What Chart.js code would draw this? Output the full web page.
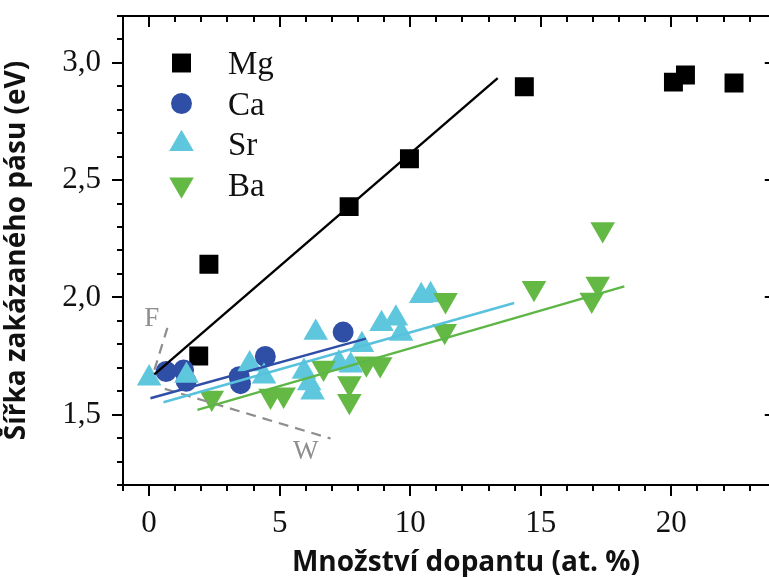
<!DOCTYPE html>
<html>
<head>
<meta charset="utf-8">
<title>Šířka zakázaného pásu</title>
<script src="https://cdn.jsdelivr.net/npm/chart.js@4.4.1/dist/chart.umd.min.js"></script>
<style>
  html, body { margin: 0; padding: 0; background: #fff; overflow: hidden; }
  #wrap { width: 790px; height: 577px; }
</style>
</head>
<body>
<div id="wrap"><canvas id="gap" width="790" height="577"></canvas></div>
<script>
// band gap vs. dopant content, one series per dopant
const seriesNames = ['Mg', 'Ca', 'Sr', 'Ba'];

const mgX = [1.9, 2.29, 7.66, 9.97, 14.37, 20.08, 20.54, 22.4];
const mgY = [1.75, 2.141, 2.387, 2.591, 2.898, 2.918, 2.948, 2.914];

const caX = [0.65, 1.32, 1.42, 3.45, 3.5, 4.45, 7.43];
const caY = [1.684, 1.69, 1.642, 1.662, 1.632, 1.748, 1.852];

const srX = [0, 1.43, 3.85, 4.4, 5.93, 6.13, 6.26, 6.38, 7.27, 7.72, 8.15, 8.9, 9.45, 9.65, 10.42, 10.78];
const srY = [1.655, 1.666, 1.715, 1.663, 1.683, 1.634, 1.595, 1.85, 1.719, 1.71, 1.797, 1.887, 1.91, 1.845, 2.006, 2.01];

const baX = [2.4, 4.65, 5.15, 6.68, 7.67, 7.67, 8.32, 8.85, 11.32, 11.35, 14.74, 16.95, 17.18, 17.37];
const baY = [1.572, 1.58, 1.585, 1.70, 1.633, 1.558, 1.718, 1.715, 1.856, 1.988, 2.04, 1.99, 2.058, 2.29];

// linear fits (end points)
const mgFitX = [0.2, 13.35];
const mgFitY = [1.672, 2.935];
const caFitX = [0.05, 8.3];
const caFitY = [1.57, 1.824];
const srFitX = [0.55, 13.98];
const srFitY = [1.553, 1.976];
const baFitX = [1.85, 18.2];
const baFitY = [1.52, 2.047];

// dashed guide lines F and W
const fLineX = [0.7, 0.2];
const fLineY = [1.87, 1.69];
const wLineX = [0.6, 6.95];
const wLineY = [1.61, 1.398];
const guideLabels = ['F', 'W'];
const guideLabelX = [0.1, 6.0];
const guideLabelY = [1.91, 1.34];

const xMin = -1, xMax = 24;
const yMin = 1.2, yMax = 3.2;
const xTickVals = [0, 5, 10, 15, 20];
const yTickVals = [1.5, 2.0, 2.5, 3.0];
const xTitle = 'Množství dopantu (at. %)';
const yTitle = 'Šířka zakázaného pásu (eV)';

const colors = { Mg: '#000000', Ca: '#2f4ea6', Sr: '#5fc7dd', Ba: '#64b944' };
const lineColors = { Mg: '#000000', Ca: '#2f4ea6', Sr: '#58c2dc', Ba: '#5db646' };
const guideColor = '#8e8e8e';

const pts = (xs, ys) => xs.map((x, i) => ({ x, y: ys[i] }));

const markerStyle = {
  Mg: { pointStyle: 'rect', pointRadius: 13.4, pointRotation: 0 },
  Ca: { pointStyle: 'circle', pointRadius: 10.5, pointRotation: 0 },
  Sr: { pointStyle: 'triangle', pointRadius: 14.2, pointRotation: 0 },
  Ba: { pointStyle: 'triangle', pointRadius: 14.2, pointRotation: 180 }
};

function markerSet(name, xs, ys, order) {
  const s = markerStyle[name];
  return {
    label: name,
    data: pts(xs, ys),
    backgroundColor: colors[name],
    borderColor: colors[name],
    pointBorderWidth: 0,
    pointStyle: s.pointStyle,
    pointRadius: s.pointRadius,
    pointRotation: s.pointRotation,
    showLine: false,
    order
  };
}

function fitSet(name, xs, ys, color, dash) {
  return {
    label: name,
    data: pts(xs, ys),
    showLine: true,
    borderColor: color,
    borderWidth: dash ? 2.2 : 2.4,
    borderDash: dash || [],
    pointRadius: 0,
    fill: false,
    order: 0
  };
}

// frame with mirrored ticks, in-plot legend, F / W labels and x title
const framePlugin = {
  id: 'frame',
  afterDatasetsDraw(chart) {
    const { ctx, chartArea: a, scales: { x, y } } = chart;
    ctx.save();
    ctx.strokeStyle = '#000';
    ctx.lineWidth = 2;
    ctx.strokeRect(a.left, a.top, a.right - a.left, a.bottom - a.top);
    ctx.beginPath();
    for (let v = xMin; v <= xMax; v++) {
      const px = Math.round(x.getPixelForValue(v));
      const len = v % 5 === 0 ? 11 : 6;
      ctx.moveTo(px, a.bottom); ctx.lineTo(px, a.bottom + len);
      ctx.moveTo(px, a.top); ctx.lineTo(px, a.top + len);
    }
    for (let i = 0; i <= 20; i++) {
      const v = yMin + i * 0.1;
      const py = Math.round(y.getPixelForValue(v));
      const len = Math.round(v * 10) % 5 === 0 ? 11 : 6;
      ctx.moveTo(a.left, py); ctx.lineTo(a.left - len, py);
      ctx.moveTo(a.right, py); ctx.lineTo(a.right - len, py);
    }
    ctx.stroke();

    // F / W labels
    ctx.fillStyle = guideColor;
    ctx.font = '27px "Liberation Serif"';
    ctx.textAlign = 'center';
    ctx.textBaseline = 'middle';
    guideLabels.forEach((t, i) => {
      ctx.fillText(t, x.getPixelForValue(guideLabelX[i]), y.getPixelForValue(guideLabelY[i]));
    });

    // x axis title, centred on the whole layer
    ctx.fillStyle = '#111';
    ctx.font = 'bold 28px "Open Sans"';
    ctx.textBaseline = 'alphabetic';
    ctx.fillText(xTitle, 466, 571);

    // legend
    const rowTop = 63, rowStep = 40.5, symX = 181.5, textX = 228;
    ctx.textAlign = 'left';
    ctx.font = '33px "Liberation Serif"';
    seriesNames.forEach((name, i) => {
      const s = markerStyle[name];
      const cy = rowTop + i * rowStep;
      ctx.fillStyle = colors[name];
      ctx.strokeStyle = colors[name];
      Chart.helpers.drawPoint(ctx, {
        pointStyle: s.pointStyle,
        radius: s.pointRadius,
        rotation: s.pointRotation,
        borderWidth: 0
      }, symX, cy);
      ctx.fillStyle = '#111';
      ctx.fillText(name, textX, cy + 11);
    });
    ctx.restore();
  }
};

new Chart(document.getElementById('gap'), {
  type: 'scatter',
  data: {
    datasets: [
      fitSet('Mg fit', mgFitX, mgFitY, lineColors.Mg),
      fitSet('Ca fit', caFitX, caFitY, lineColors.Ca),
      fitSet('Sr fit', srFitX, srFitY, lineColors.Sr),
      fitSet('Ba fit', baFitX, baFitY, lineColors.Ba),
      fitSet('F', fLineX, fLineY, guideColor, [10, 7]),
      fitSet('W', wLineX, wLineY, guideColor, [10, 7]),
      markerSet('Ba', baX, baY, 1),
      markerSet('Sr', srX, srY, 2),
      markerSet('Ca', caX, caY, 3),
      markerSet('Mg', mgX, mgY, 4)
    ]
  },
  options: {
    responsive: false,
    devicePixelRatio: 1,
    animation: false,
    events: [],
    layout: { padding: { top: 16, right: 14, left: 0, bottom: 0 } },
    plugins: {
      legend: { display: false },
      tooltip: { enabled: false }
    },
    scales: {
      x: {
        type: 'linear',
        min: xMin,
        max: xMax,
        afterBuildTicks: s => { s.ticks = xTickVals.map(v => ({ value: v })); },
        afterFit: s => { s.height = 92; s.paddingLeft = 0; s.paddingRight = 0; },
        grid: { display: false, drawTicks: false },
        border: { display: false },
        ticks: {
          padding: 20,
          color: '#111',
          font: { family: 'Liberation Serif', size: 31 },
          callback: v => String(v)
        }
      },
      y: {
        type: 'linear',
        min: yMin,
        max: yMax,
        afterBuildTicks: s => { s.ticks = yTickVals.map(v => ({ value: v })); },
        afterFit: s => { s.width = 123; s.paddingTop = 0; s.paddingBottom = 0; },
        grid: { display: false, drawTicks: false },
        border: { display: false },
        ticks: {
          padding: 22,
          color: '#111',
          font: { family: 'Liberation Serif', size: 31 },
          callback: v => v.toFixed(1).replace('.', ',')
        },
        title: {
          display: true,
          text: yTitle,
          color: '#111',
          font: { family: 'Open Sans', size: 28, weight: 'bold' },
          padding: { top: 0, bottom: 6 }
        }
      }
    }
  },
  plugins: [framePlugin]
});
</script>
</body>
</html>
